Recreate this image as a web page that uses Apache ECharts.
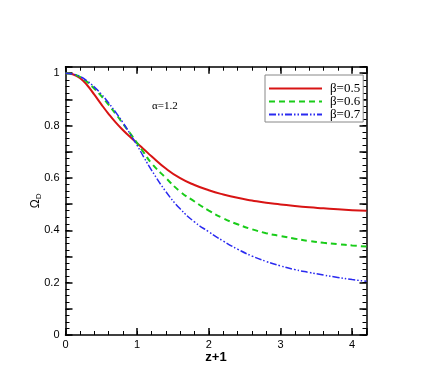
<!DOCTYPE html>
<html lang="en">
<head>
    <meta charset="UTF-8">
    <title>Omega_D</title>
    <script src="https://cdn.jsdelivr.net/npm/echarts@6/dist/echarts.min.js"></script>
    <style>
        html, body {margin:0; padding:0; background:#fff;}
        #container {width:436px; height:388px;}
    </style>
</head>
<body>
<div id="container"></div>
<script>
    // 数据
    let xs = [0, 0.1, 0.2, 0.3, 0.4, 0.5, 0.6, 0.7, 0.8, 0.9, 1.0, 1.1, 1.2,
              1.4, 1.6, 1.8, 2.0, 2.2, 2.4, 2.6, 2.8, 3.0, 3.2, 3.4, 3.6, 3.8, 4.0, 4.2];
    let beta05 = [1.0, 0.996, 0.982, 0.955, 0.919, 0.881, 0.845, 0.812, 0.783, 0.757, 0.733, 0.708, 0.683,
                  0.636, 0.599, 0.573, 0.553, 0.537, 0.524, 0.514, 0.505, 0.499, 0.493, 0.488, 0.484, 0.480, 0.477, 0.475];
    let beta06 = [1.0, 0.997, 0.986, 0.967, 0.942, 0.913, 0.880, 0.845, 0.808, 0.771, 0.733, 0.694, 0.656,
                  0.600, 0.548, 0.510, 0.475, 0.446, 0.423, 0.404, 0.389, 0.378, 0.368, 0.359, 0.352, 0.347, 0.342, 0.338];
    let beta07 = [1.0, 0.997, 0.988, 0.971, 0.948, 0.920, 0.887, 0.851, 0.812, 0.769, 0.724, 0.676, 0.630,
                  0.548, 0.482, 0.432, 0.394, 0.359, 0.328, 0.302, 0.281, 0.264, 0.250, 0.239, 0.229, 0.220, 0.212, 0.205];
    let names = ['β=0.5', 'β=0.6', 'β=0.7'];

    function pairs(ys) {
        return xs.map(function (x, i) { return [x, ys[i]]; });
    }

    let chart = echarts.init(document.getElementById('container'));
    let black = '#000';
    let sans = 'Liberation Sans';
    let serif = 'Liberation Serif';

    function xAx(pos, major, showLabel) {
        return {
            type: 'value', position: pos, min: 0, max: 4.2,
            interval: major ? 1 : 0.2,
            axisLine: {show: major, onZero: false, lineStyle: {color: black, width: 1.5}},
            axisTick: {show: true, inside: true, length: major ? 7 : 4, lineStyle: {color: black, width: major ? 1.5 : 1}},
            axisLabel: {
                show: showLabel, color: black, fontFamily: sans, fontSize: 11, margin: 4,
                formatter: function (v) { return Math.abs(v - Math.round(v)) < 1e-6 && v <= 4 ? String(Math.round(v)) : ''; }
            },
            splitLine: {show: false}
        };
    }
    function yAx(pos, major, showLabel) {
        return {
            type: 'value', position: pos, min: 0, max: 1.025,
            interval: major ? 0.1 : 0.025,
            axisLine: {show: major, onZero: false, lineStyle: {color: black, width: 1.5}},
            axisTick: {show: true, inside: true, length: major ? 7 : 4, lineStyle: {color: black, width: major ? 1.5 : 1}},
            axisLabel: {
                show: showLabel, color: black, fontFamily: sans, fontSize: 11, margin: 6,
                formatter: function (v) {
                    let k = v * 5;
                    return Math.abs(k - Math.round(k)) < 1e-6 && v <= 1 ? String(Math.round(v * 10) / 10) : '';
                }
            },
            splitLine: {show: false}
        };
    }

    let xMain = xAx('bottom', true, true);
    xMain.name = 'z+1';
    xMain.nameLocation = 'middle';
    xMain.nameGap = 16;
    xMain.nameMoveOverlap = false;
    xMain.nameTextStyle = {color: black, fontFamily: sans, fontSize: 13, fontWeight: 'bold'};

    let yMain = yAx('left', true, true);
    yMain.name = '{o|Ω}{d|D}';
    yMain.nameLocation = 'middle';
    yMain.nameRotate = 90;
    yMain.nameGap = 23;
    yMain.nameMoveOverlap = false;
    yMain.nameTextStyle = {
        color: black,
        rich: {
            o: {fontFamily: sans, fontSize: 12, color: black},
            d: {fontFamily: sans, fontSize: 8, color: black, verticalAlign: 'bottom', padding: [6, 0, 0, 0]}
        }
    };

    let option = {
        backgroundColor: '#ffffff',
        animation: false,
        grid: {left: 65.5, right: 69.5, top: 66.7, bottom: 53},
        legend: {
            left: 265, top: 75,
            orient: 'vertical',
            data: names,
            itemWidth: 53, itemHeight: 14, itemGap: 0,
            padding: [7, 3, 1, 3],
            backgroundColor: '#fff',
            borderColor: '#888', borderWidth: 1, borderRadius: 0,
            itemStyle: {opacity: 0},
            textStyle: {fontFamily: serif, fontSize: 13, color: black, padding: [0, 0, 0, 3]}
        },
        xAxis: [xMain, xAx('bottom', false, false), xAx('top', true, false), xAx('top', false, false)],
        yAxis: [yMain, yAx('left', false, false), yAx('right', true, false), yAx('right', false, false)],
        graphic: [{
            type: 'text', left: 152, top: 101,
            style: {text: 'α=1.2', fontFamily: serif, fontSize: 11, fill: black}
        }],
        series: [
            {name: names[0], type: 'line', smooth: true, symbol: 'none', data: pairs(beta05),
                lineStyle: {color: '#d81414', width: 2}, itemStyle: {color: '#d81414'}},
            {name: names[1], type: 'line', smooth: true, symbol: 'none', data: pairs(beta06),
                lineStyle: {color: '#19cc19', width: 2, type: [6, 4]}, itemStyle: {color: '#19cc19'}},
            {name: names[2], type: 'line', smooth: true, symbol: 'none', data: pairs(beta07),
                lineStyle: {color: '#2a2af0', width: 1.5, type: [7, 2, 1.5, 2, 1.5, 2]}, itemStyle: {color: '#2a2af0'}}
        ]
    };
    chart.setOption(option);
</script>
</body>
</html>
